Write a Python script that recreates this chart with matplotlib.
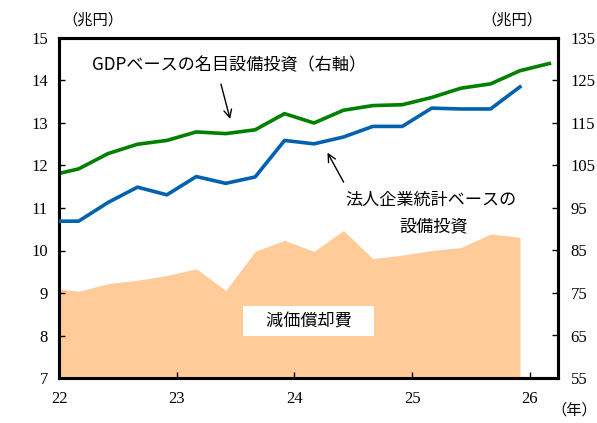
import numpy as np
import matplotlib.pyplot as plt

plt.rcParams['font.family'] = 'serif'
plt.rcParams['font.serif'] = ['Liberation Serif', 'DejaVu Serif']

# 四半期（各四半期の中央月）、21年Q4〜
x_q = 21 + 11/12 + 0.25 * np.arange(18)

# 減価償却費（左軸、兆円）
depr = [9.13, 9.04, 9.22, 9.30, 9.41, 9.57, 9.06, 9.98, 10.24,
        9.98, 10.47, 9.81, 9.89, 10.00, 10.07, 10.39, 10.31]
# 法人企業統計ベースの設備投資（左軸、兆円）
capex_mof = [10.69, 10.69, 11.13, 11.49, 11.31, 11.74, 11.58, 11.73, 12.59,
             12.51, 12.67, 12.92, 12.92, 13.35, 13.33, 13.33, 13.85]
# GDPベースの名目設備投資（右軸、兆円）
capex_gdp = [102.6, 104.2, 107.8, 110.0, 110.9, 112.9, 112.5, 113.4, 117.2,
             115.0, 118.0, 119.1, 119.3, 121.0, 123.2, 124.2, 127.3, 129.0]

xticks = [22, 23, 24, 25, 26]

fig = plt.figure(figsize=(5.97, 4.23), dpi=100)
ax = fig.add_axes([59/597, 1 - 378/423, (558-59)/597, (378-38)/423])
ax2 = ax.twinx()

n = len(depr)
ax.fill_between(x_q[:n], depr, 7, color='#FFCC99', lw=0, zorder=1)
ax.plot(x_q[:n], capex_mof, color='#0062AE', lw=2.6, zorder=3)
ax2.plot(x_q, capex_gdp, color='#008000', lw=2.6, zorder=3)

ax.set_xlim(22, 26.24)
ax.set_ylim(7, 15)
ax2.set_ylim(55, 135)
ax.set_xticks(xticks)
ax.set_yticks(range(7, 16))
ax2.set_yticks(range(55, 136, 10))

for a in (ax, ax2):
    for s in a.spines.values():
        s.set_linewidth(2.2)
    a.tick_params(direction='in', length=4, width=1, labelsize=12)
ax.tick_params(axis='x', pad=9)
ax.tick_params(axis='y', pad=8)
ax2.tick_params(axis='y', pad=9)
ax.set_zorder(ax2.get_zorder() + 1)
ax.patch.set_visible(False)

cjk = ['Noto Sans CJK JP']
fig.text(93/597, 1 - 20/423, '（兆円）', family=cjk, fontsize=11, ha='center', va='center')
fig.text(512/597, 1 - 20/423, '（兆円）', family=cjk, fontsize=11, ha='center', va='center')
fig.text(597/597, 1 - 410/423, '（年）', family=cjk, fontsize=11, ha='right', va='center')

ax.text(22.28, 14.35, 'GDPベースの名目設備投資（右軸）', family=cjk, fontsize=12.3,
        ha='left', va='center')
ax.annotate('', xy=(23.46, 13.03), xytext=(23.37, 13.98),
            arrowprops=dict(arrowstyle='->', lw=1, color='black', mutation_scale=14))
ax.text(25.16, 11.2, '法人企業統計ベースの', family=cjk, fontsize=12.3, ha='center', va='center')
ax.text(25.18, 10.56, '設備投資', family=cjk, fontsize=12.3, ha='center', va='center')
ax.annotate('', xy=(24.27, 12.36), xytext=(24.43, 11.55),
            arrowprops=dict(arrowstyle='->', lw=1, color='black', mutation_scale=14))
ax.text(24.12, 8.33, '\u3000減価償却費\u3000', family=cjk, fontsize=12.3, ha='center',
        va='center', bbox=dict(boxstyle='square,pad=0.35', fc='white', ec='none'), zorder=5)

fig.savefig('out.png', dpi=100)
